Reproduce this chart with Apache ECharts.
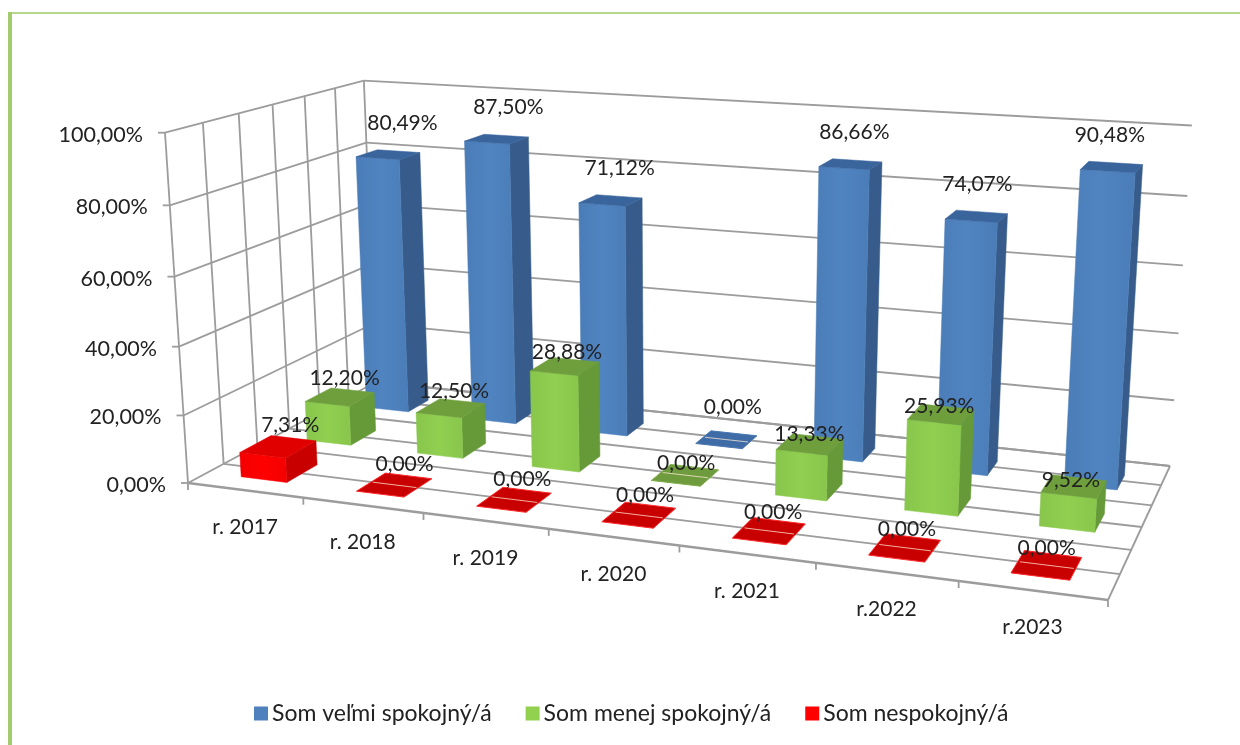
<!DOCTYPE html>
<html>
<head>
<meta charset="utf-8">
<style>html,body{margin:0;padding:0;background:#fff}#c{width:1240px;height:745px}</style>
<script src="https://cdn.jsdelivr.net/npm/echarts@6/dist/echarts.min.js"></script>
</head>
<body>
<div id="c"></div>
<script>
const categories = ['r. 2017','r. 2018','r. 2019','r. 2020','r. 2021','r.2022','r.2023'];
const veryValues = [80.49,87.50,71.12,0,86.66,74.07,90.48];
const lessValues = [12.20,12.50,28.88,0,13.33,25.93,9.52];
const notValues  = [7.31,0,0,0,0,0,0];
const tickValues = [0,20,40,60,80,100];
const tickLabels = ['0,00%','20,00%','40,00%','60,00%','80,00%','100,00%'];
const depthLines = [0,1,2,3,4,5,6];
const seriesNames = ['Som veľmi spokojný/á','Som menej spokojný/á','Som nespokojný/á'];

const FONT = 'Lato, "Open Sans", sans-serif';
const TEXT = '#222';
const GRID = '#9c9c9c';
const DEPTH = 6;
const BAR_HALF_U = 0.2, BAR_FRONT_W = 0.46;

// perspective calibration of the 3D box: floor plane (FL, FR, BR, BL), vertical vanishing point
const FLOOR = [[188,483],[1108,600],[1170,466],[376,382]];
const VANISH = [684,8040], RISE = -0.0443;

function homography(q){
  const [x0,y0]=q[0],[x1,y1]=q[1],[x2,y2]=q[2],[x3,y3]=q[3];
  const dx3=x0-x1+x2-x3, dy3=y0-y1+y2-y3, dx1=x1-x2, dx2=x3-x2, dy1=y1-y2, dy2=y3-y2;
  const den=dx1*dy2-dx2*dy1, g=(dx3*dy2-dx2*dy3)/den, h=(dx1*dy3-dx3*dy1)/den;
  const a=x1-x0+g*x1, b=x3-x0+h*x3, d=y1-y0+g*y1, e=y3-y0+h*y3;
  return (u,v)=>{const n=g*u+h*v+1;return [(a*u+b*v+x0)/n,(d*u+e*v+y0)/n,n];};
}
const floorH=homography(FLOOR);
function project(u,w,t){
  const a=floorH(u,w/DEPTH), f=RISE*t/(a[2]+RISE*t);
  return [a[0]+(VANISH[0]-a[0])*f, a[1]+(VANISH[1]-a[1])*f];
}
// read plot position through the library's axes
function scaled(params,api,cat,val){
  const cs=params.coordSys, p=api.coord([cat,val]);
  return {u:(p[0]-cs.x)/cs.width, t:(cs.y+cs.height-p[1])/cs.height, hu:api.size([1,0])[0]/cs.width};
}
function poly(points,fill,stroke){
  return {type:'polygon',shape:{points},style:{fill,stroke:stroke||fill,lineWidth:stroke?1:0.5}};
}
function seg(a,b,w,c){
  return {type:'line',shape:{x1:a[0],y1:a[1],x2:b[0],y2:b[1]},style:{stroke:c||GRID,lineWidth:w||1.8,fill:null}};
}
function barRender(wc,backHalf,colors){
  return (params,api)=>{
    const i=api.value(0), v=api.value(1), s=scaled(params,api,i,v);
    const ul=s.u-BAR_HALF_U*s.hu, ur=s.u+BAR_HALF_U*s.hu, wf=wc-BAR_FRONT_W, wb=wc+backHalf;
    const t=s.t, kids=[];
    const P=(u,w,h)=>project(u,w,h);
    if(v>0){
      kids.push(poly([P(ur,wf,0),P(ur,wb,0),P(ur,wb,t),P(ur,wf,t)],colors.side));
      kids.push(poly([P(ul,wf,0),P(ur,wf,0),P(ur,wf,t),P(ul,wf,t)],{type:'linear',x:0,y:0,x2:1,y2:0,colorStops:[{offset:0,color:colors.front},{offset:.5,color:colors.front2},{offset:1,color:colors.front}]}));
      kids.push(poly([P(ul,wf,t),P(ur,wf,t),P(ur,wb,t),P(ul,wb,t)],colors.top));
    } else {
      const wm=(wf+wb)/2;
      kids.push(poly([P(ul,wf,0),P(ur,wf,0),P(ur,wb,0),P(ul,wb,0)],colors.flat,colors.rim));
      kids.push(seg(P(ul+.002,wm,0),P(ur-.002,wm,0),1,'rgba(255,235,215,.75)'));
    }
    return {type:'group',children:kids};
  };
}
// label offset drifts slightly from left to right of the plot
function labelRender(wc,fmt,dx0,dx1,dy0,dy1){
  return (params,api)=>{
    const i=api.value(0), v=api.value(1), s=scaled(params,api,i,v);
    const p=project(s.u,wc,s.t);
    return {type:'text',x:p[0]+dx0+(dx1-dx0)*s.u,y:p[1]+dy0+(dy1-dy0)*s.u,style:{text:fmt(v),font:'21px '+FONT,fill:TEXT,align:'center',verticalAlign:'middle'}};
  };
}
const pct=v=>v.toFixed(2).replace('.',',')+'%';
const frameRender=(params,api)=>{
  const kids=[];
  tickValues.forEach(tv=>{
    const t=scaled(params,api,0,tv).t;
    const a=project(0,0,t), b=project(0,DEPTH,t), c=project(1,DEPTH,t);
    kids.push(seg(a,b)); kids.push(seg(b,c));
    kids.push(seg([a[0]-7,a[1]],a));
  });
  depthLines.forEach(w=>{
    kids.push(seg(project(0,w,0),project(0,w,1)));
    kids.push(seg(project(0,w,0),project(1,w,0),w===0?2.4:1.8));
  });
  kids.push(seg(project(1,0,0),project(1,DEPTH,0)));
  categories.forEach((c,i)=>{
    const s=scaled(params,api,i,0), u=s.u+s.hu/2, p=project(u,0,0);
    kids.push(seg(p,[p[0],p[1]+7]));
  });
  const o=project(0,0,0); kids.push(seg(o,[o[0],o[1]+7]));
  return {type:'group',children:kids};
};
const tickLabelRender=(params,api)=>{
  const k=api.value(0), s=scaled(params,api,0,tickValues[k]), p=project(0,0,s.t);
  return {type:'text',x:p[0]-22,y:p[1]+2,style:{text:tickLabels[k],font:'21.5px '+FONT,fill:TEXT,align:'right',verticalAlign:'middle'}};
};
const catLabelRender=(params,api)=>{
  const i=api.value(0), s=scaled(params,api,i,0), p=project(s.u,0,0);
  return {type:'text',x:p[0],y:p[1]+37,style:{text:categories[i],font:'21px '+FONT,fill:TEXT,align:'center',verticalAlign:'middle'}};
};
const BLUE={front:'#4a7db8',front2:'#5084c0',side:'#375c8c',top:'#3a659c',flat:'#3f6ca6',rim:'#4a78b2'};
const GREEN={front:'#88c64c',front2:'#90cf50',side:'#669a39',top:'#6e9f3c',flat:'#6f9b3f',rim:'#7fae4a'};
const RED={front:'#f40000',front2:'#ff0000',side:'#c80000',top:'#e00000',flat:'#c80000',rim:'#ff2a2a'};
const rows=a=>a.map((v,i)=>[i,v]);
const custom=(o)=>Object.assign({type:'custom',clip:false,silent:true,animation:false,coordinateSystem:'cartesian2d',encode:{x:0,y:1}},o);

const chart=echarts.init(document.getElementById('c'),null,{renderer:'canvas'});
chart.setOption({
  animation:false,
  backgroundColor:'#fff',
  textStyle:{fontFamily:FONT},
  grid:{left:100,right:100,top:100,bottom:100,show:false},
  xAxis:{type:'category',data:categories,show:false},
  yAxis:{type:'value',min:0,max:100,interval:20,show:false},
  legend:{
    data:seriesNames,left:254,top:702,padding:0,icon:'rect',itemWidth:14,itemHeight:14,itemGap:34,
    selectedMode:false,textStyle:{fontFamily:FONT,fontSize:23,color:TEXT,padding:[0,0,0,-1]}
  },
  graphic:[
    {type:'rect',shape:{x:8,y:12,width:1232,height:2},style:{fill:'#b7d78f'}},
    {type:'rect',shape:{x:8,y:12,width:4,height:733},style:{fill:'#a3cc6c'}}
  ],
  series:[
    custom({z:1,data:[[0,0]],renderItem:frameRender}),
    custom({name:seriesNames[0],z:2,data:rows(veryValues),itemStyle:{color:'#4f81bd'},renderItem:barRender(5,0.28,BLUE)}),
    custom({name:seriesNames[1],z:3,data:rows(lessValues),itemStyle:{color:'#92d050'},renderItem:barRender(3,0.38,GREEN)}),
    custom({name:seriesNames[2],z:4,data:rows(notValues),itemStyle:{color:'#ff0000'},renderItem:barRender(1,0.46,RED)}),
    custom({z:5,data:rows(veryValues),renderItem:labelRender(5,pct,13,-4,-31,-31)}),
    custom({z:5,data:rows(lessValues),renderItem:labelRender(3,pct,4,-4,-19,-4)}),
    custom({z:5,data:rows(notValues),renderItem:labelRender(1,pct,13,-1,-22,-17)}),
    custom({z:5,data:tickValues.map((v,k)=>[k,v]),encode:{x:0,y:1},renderItem:tickLabelRender}),
    custom({z:5,data:categories.map((c,i)=>[i,0]),renderItem:catLabelRender})
  ]
});
</script>
</body>
</html>
